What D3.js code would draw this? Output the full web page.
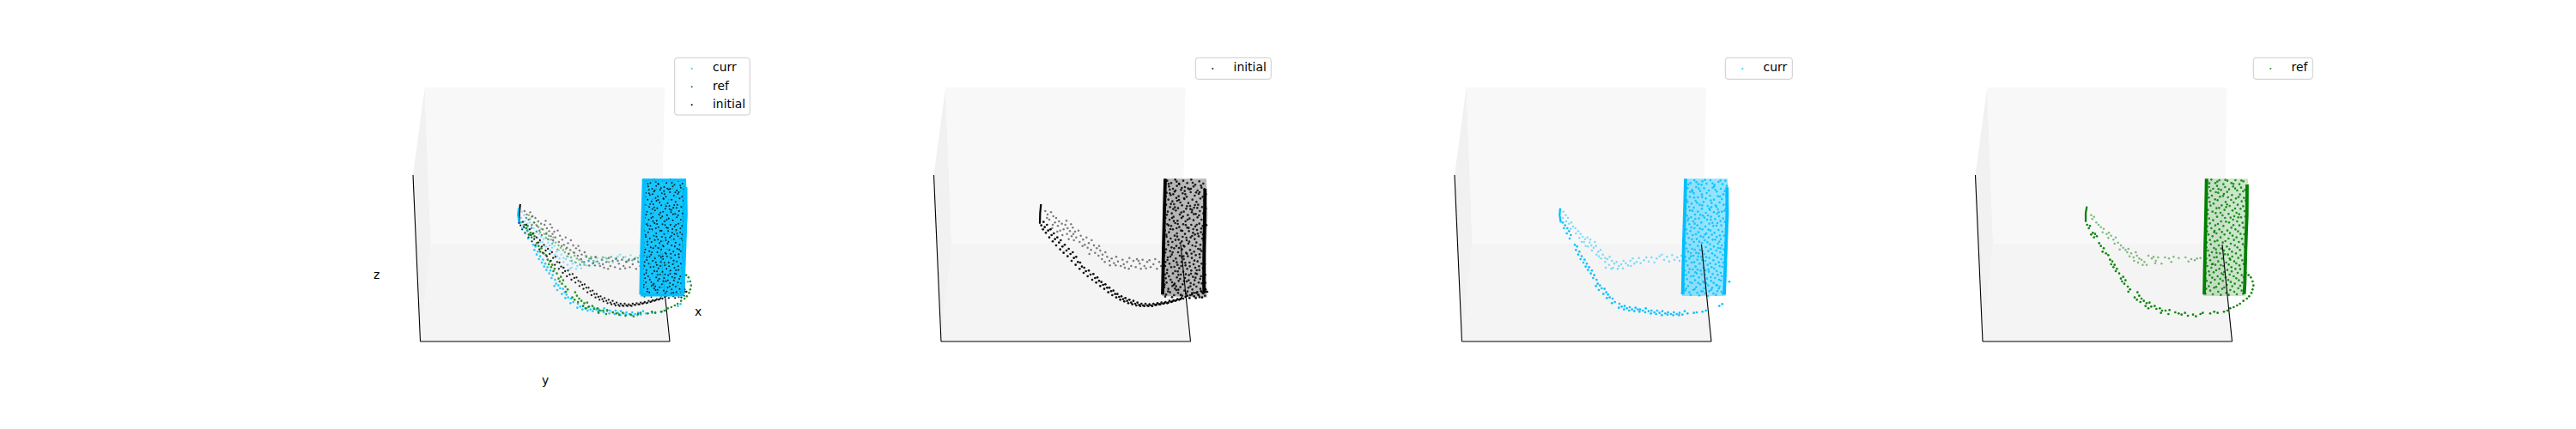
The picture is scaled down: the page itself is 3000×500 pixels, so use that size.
<!DOCTYPE html>
<html><head><meta charset="utf-8">
<script src="https://cdn.jsdelivr.net/npm/d3@7/dist/d3.min.js"></script>
<style>html,body{margin:0;padding:0;background:#fff}svg{display:block}text{font-family:"DejaVu Sans";font-size:13.89px;fill:#000}</style>
</head><body><svg id="c" width="3000" height="500"></svg>
<script>
const initialTip=[[37,24],[34,55],[33,92]];
const initialLeft=[[471,-65],[468,50],[465,180],[462,340]];
const initialRight=[[610,-30],[609,60],[607,180],[606,300],[607,335]];
const initialOutline=[[467,-65],[615,-65],[619,60],[614,200],[617,350],[460,345]];
const initialBack=[[52,48],[60,60],[72,52],[80,66],[66,78],[90,72],[86,88],[100,84],[96,100],[110,92],[78,96],[122,96],[116,112],[130,108],[104,116],[138,118],[148,106],[128,128],[156,120],[144,136],[168,116],[160,140],[176,134],[152,150],[184,148],[172,156],[196,140],[190,166],[204,160],[214,150],[200,176],[222,168],[212,184],[232,178],[226,194],[244,186],[238,204],[252,200],[262,192],[250,216],[268,208],[276,222],[260,226],[284,214],[292,230],[300,208],[278,238],[306,224],[316,240],[322,218],[330,246],[338,226],[346,212],[352,240],[344,250],[360,222],[372,216],[368,244],[382,232],[392,218],[398,240],[386,250],[408,226],[416,220],[420,244],[430,234],[436,216],[442,250],[450,226],[456,240],[378,222],[404,248],[326,234],[298,238],[240,170],[126,82],[142,94],[58,72],[76,108],[94,120],[112,132],[134,146],[150,128],[182,170],[206,198]];
const initialFront=[[38,98],[46,86],[50,104],[44,112],[58,96],[62,116],[54,124],[70,112],[74,132],[66,140],[82,126],[86,146],[78,154],[94,140],[100,158],[90,168],[106,150],[112,172],[104,182],[120,166],[126,186],[116,194],[134,180],[140,198],[130,206],[148,192],[152,212],[144,222],[160,208],[166,226],[158,236],[174,228],[180,242],[172,250],[188,246],[194,258],[186,264],[204,256],[210,270],[200,276],[220,268],[226,282],[216,288],[234,280],[240,292],[230,298],[248,296],[254,306],[244,310],[262,304],[268,316],[258,320],[276,316],[282,328],[272,332],[290,326],[296,338],[286,342],[304,338],[310,348],[300,350],[318,346],[324,356],[314,358],[332,352],[338,362],[328,364],[346,358],[352,368],[342,370],[360,362],[366,372],[356,374],[374,368],[380,376],[370,378],[388,372],[394,378],[384,380],[402,372],[408,378],[398,380],[416,374],[422,378],[412,380],[430,372],[436,376],[426,380],[444,370],[450,374],[440,376],[458,368],[464,372],[454,374],[472,366],[478,370],[468,370],[486,362],[492,366],[482,368],[500,360],[506,362],[496,364],[514,356],[520,358],[510,360],[528,352],[534,354],[524,356],[542,348],[548,344],[556,352],[564,340],[572,346],[580,334],[588,342],[596,328],[604,336],[612,322],[618,330],[608,312],[600,350],[578,352]];
const initialWall=[[478,-58],[492,-50],[506,-62],[520,-46],[534,-58],[548,-50],[562,-62],[576,-44],[590,-56],[604,-48],[484,-38],[498,-30],[512,-40],[526,-26],[540,-36],[556,-28],[570,-38],[584,-24],[598,-34],[476,-16],[490,-8],[504,-20],[518,-4],[532,-14],[546,-2],[560,-18],[574,-6],[588,-12],[602,-2],[482,8],[496,14],[510,2],[524,18],[538,6],[552,20],[566,8],[580,16],[594,4],[474,26],[488,34],[502,24],[516,38],[530,28],[544,40],[558,30],[572,36],[586,26],[600,34],[480,50],[494,56],[508,46],[522,60],[536,50],[550,62],[564,52],[578,58],[592,48],[604,56],[472,72],[486,78],[500,68],[514,82],[528,72],[542,84],[556,74],[570,80],[584,70],[598,78],[478,94],[492,100],[506,90],[520,104],[534,94],[548,106],[562,96],[576,102],[590,92],[602,100],[470,116],[484,122],[498,112],[512,126],[526,116],[540,128],[554,118],[568,124],[582,114],[596,122],[476,138],[490,144],[504,134],[518,148],[532,138],[546,150],[560,140],[574,146],[588,136],[600,144],[468,160],[482,166],[496,156],[510,170],[524,160],[538,172],[552,162],[566,168],[580,158],[594,166],[474,182],[488,188],[502,178],[516,192],[530,182],[544,194],[558,184],[572,190],[586,180],[598,188],[468,204],[480,210],[494,200],[508,214],[522,204],[536,216],[550,206],[564,212],[578,202],[592,210],[472,226],[486,232],[500,222],[514,236],[528,226],[542,238],[556,228],[570,234],[584,224],[598,232],[466,248],[478,254],[492,244],[506,258],[520,248],[534,260],[548,250],[562,256],[576,246],[590,254],[470,270],[484,276],[498,266],[512,280],[526,270],[540,282],[554,272],[568,278],[582,268],[596,276],[466,292],[476,298],[490,288],[504,302],[518,292],[532,304],[546,294],[560,300],[574,290],[588,298],[468,314],[482,320],[496,310],[510,324],[524,314],[538,326],[552,316],[566,322],[580,312],[594,320],[464,336],[474,340],[488,332],[502,342],[516,334],[530,344],[544,336],[558,342],[572,334],[586,340],[600,332],[610,344],[614,330],[487,-14],[513,12],[539,-22],[565,44],[591,-18],[511,108],[549,78],[497,192],[575,130],[527,240],[483,98],[605,210],[603,130],[553,290],[495,72],[519,-48],[581,96],[535,206],[561,-30],[501,306],[577,266],[529,154],[507,-24],[593,182],[471,240]];
const initialWallExtra=[[483,-47],[511,-55],[529,-33],[567,-51],[596,-41],[473,-3],[499,-11],[537,3],[551,-31],[579,-17],[608,-29],[491,23],[519,9],[547,31],[583,37],[607,11],[477,61],[505,35],[533,67],[559,41],[589,63],[469,89],[501,83],[543,97],[571,59],[609,83],[489,111],[515,93],[553,107],[585,127],[475,131],[507,149],[531,117],[565,135],[597,109],[481,155],[519,177],[545,141],[577,171],[605,151],[471,193],[493,175],[535,169],[563,197],[591,199],[479,219],[511,227],[547,197],[573,221],[607,183],[467,237],[503,243],[529,209],[557,241],[589,241],[477,265],[515,259],[543,269],[581,255],[603,247],[473,283],[495,297],[523,285],[561,267],[593,285],[469,305],[509,311],[537,293],[571,305],[599,301],[481,329],[517,323],[549,329],[583,331],[607,315],[471,347],[495,349],[525,341],[565,335],[591,349],[487,-27],[541,-11],[575,27],[499,41],[527,53],[569,111],[513,137],[555,155],[489,207],[541,229],[517,271],[577,281],[505,319],[559,311],[609,233],[611,271],[611,299],[613,39],[615,97],[613,-11]];

const currTip=[[21,38],[19,62],[23,88]];
const currLeft=[[459,-65],[456,50],[452,180],[449,340]];
const currRight=[[604,-35],[604,60],[600,180],[596,290],[594,340]];
const currTop=[[457,-60],[605,-60]];
const currBottom=[[448,342],[594,342]];
const currOutline=[[455,-65],[606,-65],[611,60],[603,200],[598,345],[447,345]];
const currBack=[[32,50],[40,62],[30,72],[48,72],[42,84],[52,92],[60,88],[66,102],[58,110],[74,108],[84,118],[76,126],[92,128],[100,138],[88,142],[108,146],[116,140],[104,156],[124,158],[130,168],[118,172],[138,176],[146,170],[132,186],[154,190],[162,184],[148,200],[170,200],[178,212],[164,214],[186,216],[194,208],[178,226],[202,222],[210,232],[192,236],[218,226],[226,240],[206,246],[234,234],[242,222],[222,250],[250,230],[258,238],[240,248],[266,222],[274,214],[280,232],[268,240],[288,226],[296,212],[302,230],[314,220],[322,210],[330,224],[340,210],[350,228],[358,214],[368,206],[376,200],[384,218],[394,208],[402,224],[412,202],[420,218],[430,210],[438,222],[444,204],[180,246],[200,250],[156,206],[142,156],[126,148],[110,170],[96,156]];
const currFront=[[30,88],[38,98],[34,108],[46,108],[52,118],[44,126],[58,132],[54,144],[72,166],[80,172],[76,184],[88,190],[84,200],[96,206],[92,216],[106,218],[102,228],[114,232],[110,242],[122,244],[118,254],[132,256],[128,266],[140,272],[136,282],[148,288],[152,302],[146,310],[160,308],[166,318],[156,324],[176,320],[182,332],[172,338],[188,340],[194,350],[184,352],[204,354],[212,366],[202,370],[228,372],[236,382],[226,386],[246,380],[254,388],[244,392],[264,384],[272,392],[262,396],[284,386],[292,392],[280,398],[300,392],[310,396],[298,400],[320,388],[330,398],[318,402],[340,396],[350,402],[338,406],[360,396],[368,404],[356,408],[378,398],[388,406],[376,412],[398,402],[408,408],[396,410],[418,402],[428,408],[416,412],[438,404],[448,410],[436,412],[456,398],[466,406],[488,404],[498,402],[518,400],[530,396],[577,380],[587,373],[612,295]];
const currWall=[[462,-58],[476,-50],[490,-60],[504,-46],[518,-56],[532,-48],[546,-60],[560,-44],[574,-54],[588,-46],[598,-58],[466,-32],[482,-26],[496,-36],[510,-22],[524,-32],[540,-24],[554,-34],[568,-20],[582,-30],[596,-22],[460,-8],[474,-2],[488,-14],[502,0],[516,-10],[530,4],[544,-6],[558,8],[572,-4],[586,6],[600,-6],[466,16],[480,22],[494,12],[508,26],[522,16],[536,30],[550,20],[564,28],[578,18],[592,26],[460,40],[474,46],[488,36],[502,50],[516,40],[530,54],[544,44],[558,52],[572,42],[586,50],[600,40],[464,64],[478,70],[492,60],[506,74],[520,64],[534,78],[548,68],[562,76],[576,66],[590,74],[458,88],[472,94],[486,84],[500,98],[514,88],[528,102],[542,92],[556,100],[570,90],[584,98],[596,86],[462,112],[476,118],[490,108],[504,122],[518,112],[532,126],[546,116],[560,124],[574,114],[588,120],[456,136],[470,142],[484,132],[498,146],[512,136],[526,150],[540,140],[554,148],[568,138],[582,146],[594,134],[460,160],[474,166],[488,156],[502,170],[516,160],[530,174],[544,164],[558,172],[572,162],[586,168],[454,184],[468,190],[482,180],[496,194],[510,184],[524,198],[538,188],[552,196],[566,186],[580,192],[592,182],[458,208],[472,214],[486,204],[500,218],[514,208],[528,222],[542,212],[556,220],[570,210],[584,216],[452,232],[466,238],[480,228],[494,242],[508,232],[522,246],[536,236],[550,244],[564,234],[578,240],[590,228],[456,256],[470,262],[484,252],[498,266],[512,256],[526,270],[540,260],[554,268],[568,258],[582,264],[450,280],[464,286],[478,276],[492,290],[506,280],[520,294],[534,284],[548,292],[562,282],[576,288],[586,276],[454,304],[468,310],[482,300],[496,314],[510,304],[524,318],[538,308],[552,316],[566,306],[578,312],[458,326],[472,332],[486,324],[500,334],[514,328],[528,336],[542,328],[556,336],[570,328],[584,330],[483,-20],[517,28],[559,-38],[491,92],[575,52],[527,130],[505,196],[547,78],[469,74],[581,178],[539,252],[493,262],[563,148],[515,-44],[601,24],[477,206],[523,298],[569,308],[549,34]];
const currWallExtra=[[469,-45],[497,-53],[527,-61],[553,-49],[581,-59],[603,-40],[475,-19],[505,-31],[533,-15],[563,-27],[591,-11],[463,9],[489,1],[517,-1],[547,11],[579,-3],[605,15],[471,33],[499,19],[541,39],[567,33],[595,47],[457,57],[483,47],[511,61],[537,63],[569,57],[603,69],[467,81],[493,75],[525,71],[553,89],[581,83],[453,101],[479,105],[509,109],[539,113],[567,99],[599,111],[465,127],[495,129],[521,139],[551,131],[579,133],[451,151],[481,147],[507,155],[535,157],[577,155],[597,159],[463,179],[491,183],[519,189],[547,181],[573,177],[451,199],[477,195],[503,207],[531,209],[561,203],[589,201],[461,223],[489,227],[517,219],[545,231],[575,227],[449,247],[473,251],[501,253],[529,255],[559,249],[587,243],[461,271],[487,275],[515,269],[547,279],[571,271],[449,295],[475,297],[503,299],[531,301],[557,299],[583,291],[461,319],[491,321],[519,329],[549,323],[575,319],[447,335],[477,341],[507,343],[537,345],[565,341],[589,337]];

const refTip=[[31,32],[27,55],[27,86]];
const refLeft=[[449,-65],[447,50],[444,180],[441,340]];
const refRight=[[591,-45],[590,60],[586,180],[583,300],[581,338]];
const refOutline=[[445,-65],[594,-65],[597,60],[590,200],[585,345],[438,345]];
const refBack=[[46,62],[56,68],[50,76],[64,88],[72,96],[80,104],[90,110],[86,122],[100,128],[108,124],[116,134],[106,142],[124,148],[132,140],[140,158],[128,162],[150,168],[158,176],[146,182],[166,184],[176,180],[172,192],[186,196],[180,206],[194,210],[202,192],[206,204],[196,222],[214,214],[210,228],[222,218],[232,226],[226,236],[240,236],[246,204],[258,214],[264,208],[272,222],[280,210],[270,230],[292,232],[304,210],[318,214],[326,226],[334,208],[352,212],[376,210],[386,224],[396,216],[408,220],[416,214],[428,212]];
const refFront=[[32,96],[42,100],[38,108],[52,124],[46,130],[60,128],[56,140],[66,136],[74,160],[80,170],[90,178],[86,190],[98,196],[106,202],[112,218],[120,224],[116,234],[128,236],[124,244],[136,250],[132,258],[144,266],[150,284],[158,278],[154,294],[166,290],[162,302],[174,312],[182,322],[176,330],[198,350],[208,332],[214,344],[206,358],[222,354],[218,366],[230,362],[240,370],[236,380],[250,368],[256,382],[246,388],[268,380],[274,390],[286,388],[294,396],[290,404],[306,396],[320,394],[316,408],[340,402],[352,406],[362,410],[374,404],[384,414],[402,410],[412,416],[428,408],[436,404],[462,406],[476,400],[488,404],[510,400],[522,396],[532,388],[544,384],[556,378],[566,372],[578,362],[590,354],[598,346],[606,334],[610,322],[613,308],[610,294],[604,280],[596,272],[586,264]];
const refWall=[[452,-56],[466,-62],[480,-50],[494,-60],[508,-46],[522,-58],[536,-50],[550,-60],[564,-46],[578,-56],[458,-36],[472,-30],[486,-40],[500,-26],[514,-36],[528,-28],[542,-38],[556,-24],[570,-34],[584,-26],[452,-12],[468,-6],[482,-18],[496,-2],[510,-12],[524,0],[538,-8],[552,4],[566,-10],[580,2],[460,16],[474,22],[488,10],[502,28],[516,16],[530,30],[544,18],[558,26],[572,14],[454,44],[470,50],[484,38],[498,54],[512,44],[526,58],[540,46],[554,54],[568,40],[582,48],[458,74],[472,80],[486,68],[500,84],[514,72],[528,88],[542,78],[556,84],[570,70],[452,102],[466,108],[480,98],[494,112],[508,100],[522,116],[536,106],[550,112],[564,98],[578,106],[456,130],[470,136],[484,126],[498,140],[512,130],[526,144],[540,134],[554,140],[568,128],[450,158],[464,164],[478,154],[492,168],[506,158],[520,172],[534,162],[548,168],[562,156],[576,164],[454,186],[468,192],[482,182],[496,196],[510,186],[524,200],[538,190],[552,196],[566,184],[448,214],[462,220],[476,210],[490,224],[504,214],[518,228],[532,218],[546,224],[560,212],[574,220],[452,240],[466,246],[480,236],[494,250],[508,240],[522,254],[536,244],[550,250],[564,238],[446,266],[460,272],[474,262],[488,276],[502,266],[516,280],[530,270],[544,276],[558,264],[572,272],[450,292],[464,298],[478,288],[492,302],[506,292],[520,306],[534,296],[548,302],[562,290],[574,298],[448,320],[462,326],[476,316],[490,330],[504,320],[518,334],[532,324],[546,330],[560,318],[572,326],[490,-16],[518,34],[546,66],[476,122],[530,214],[508,270],[468,234],[560,70],[484,194]];
const refWallExtra=[[459,-49],[487,-55],[515,-61],[543,-47],[571,-59],[589,-39],[463,-23],[491,-29],[521,-19],[549,-31],[577,-21],[457,1],[479,7],[507,-5],[535,9],[561,-1],[586,11],[463,29],[493,37],[521,25],[549,39],[577,31],[453,59],[481,55],[505,63],[533,71],[563,59],[585,67],[461,91],[489,93],[517,85],[543,97],[575,89],[451,119],[477,117],[503,121],[531,125],[559,119],[581,129],[461,149],[487,151],[515,153],[545,149],[573,145],[449,175],[475,177],[501,179],[529,181],[557,175],[583,173],[459,203],[485,209],[513,199],[539,207],[569,203],[447,229],[471,233],[499,237],[527,235],[553,231],[579,233],[457,259],[483,255],[511,261],[537,259],[567,251],[445,283],[469,281],[497,285],[525,289],[553,283],[579,279],[457,311],[483,313],[511,315],[539,311],[567,309],[445,337],[471,339],[499,341],[527,341],[555,339],[577,337]];

const legendPanels=[["curr","ref","initial"],["initial"],["curr"],["ref"]];
const seriesColors={initial:"#000000",curr:"#00bfff",ref:"#008000"};
const series={
 initial:{home:1,tip:initialTip,edges:[initialLeft,initialRight],outline:initialOutline,back:initialBack,front:initialFront,wall:initialWall.concat(initialWallExtra),origin:1200,fill:0.27},
 curr:{home:2,tip:currTip,edges:[currLeft,currRight],outline:currOutline,back:currBack,front:currFront,wall:currWall.concat(currWallExtra),origin:1810,fill:0.42,caps:[currTop,currBottom]},
 ref:{home:3,tip:refTip,edges:[refLeft,refRight],outline:refOutline,back:refBack,front:refFront,wall:refWall.concat(refWallExtra),origin:2420,fill:0.2}
};
const panelStep=606.5;
// box corners, screen px relative to the front-left floor corner
const paneLeft=[[-8.5,194],[5.2,296.3],[12.2,114],[0,0]];
const paneBack=[[5.2,296.3],[284.5,296.3],[280.7,114],[12.2,114]];
const paneFloor=[[0,0],[290.5,0],[280.7,114],[12.2,114]];
const zAxisLine=[[-8.5,194],[0,0]];
const floorLine=[[0,0],[290.5,0]];
const xAxisLine=[[290.5,0],[279,113]];
const legendBoxes=[[785.7,873.3],[1392.3,1480.3],[2009.3,2087.3],[2624.3,2693.3]];

const svg=d3.select("#c");
const line=d3.line();
legendPanels.forEach((names,i)=>{
  const g=svg.append("g");
  const fx=d3.scaleLinear().domain([0,290.5]).range([489.5+i*panelStep,780+i*panelStep]);
  const fy=d3.scaleLinear().domain([0,296.3]).range([398,101.7]);
  const P=a=>a.map(d=>[fx(d[0]),fy(d[1])]);
  const poly=(a,c)=>g.append("path").attr("d",line(P(a))+"Z").attr("fill",c);
  poly(paneLeft,"#f1f1f1");poly(paneBack,"#f8f8f8");poly(paneFloor,"#f4f4f4");
  const ax=a=>g.append("path").attr("d",line(P(a))).attr("fill","none").attr("stroke","#000").attr("stroke-width",1.1);
  ax(zAxisLine);ax(floorLine);
  const overview=names.length>1;
  if(overview)ax(xAxisLine);
  const layer=name=>{
    const s=series[name],c=seriesColors[name];
    const left=s.origin-(s.home-i)*panelStep;
    const sx=d3.scaleLinear().domain([0,540]).range([left,left+180]);
    const sy=d3.scaleLinear().domain([0,420]).range([230,370]);
    const Q=a=>a.map(d=>[sx(d[0]),sy(d[1])]);
    return {s,c,sx,sy,Q};
  };
  const dots=(l,data,r,o)=>g.append("g").selectAll("circle").data(data).join("circle")
    .attr("cx",d=>l.sx(d[0])).attr("cy",d=>l.sy(d[1])).attr("r",r).attr("fill",l.c).attr("fill-opacity",o);
  const stroke=(l,a,w)=>g.append("path").attr("d",line(l.Q(a))).attr("fill","none").attr("stroke",l.c).attr("stroke-width",w);
  if(overview){
    const R=layer("ref"),C=layer("curr"),K=layer("initial");
    dots(K,K.s.back,1.2,0.5);dots(R,R.s.back,1.2,0.5);dots(C,C.s.back,1.2,0.45);
    dots(K,K.s.front,1.15,0.9);dots(C,C.s.front,1.3,0.85);dots(R,R.s.front,1.3,0.85);
    stroke(K,K.s.tip,2);stroke(C,C.s.tip,2.2);
    stroke(K,K.s.edges[1],3.5);
    g.append("path").attr("d",line(C.Q(C.s.outline))+"Z").attr("fill",C.c).attr("fill-opacity",0.9);
    dots(K,K.s.wall,1,0.8);
    dots(R,refWallExtra,0.75,0.55);
    C.s.edges.forEach(e=>stroke(C,e,4.5));
    C.s.caps.forEach(e=>stroke(C,e,3));
  }else{
    const l=layer(names[0]);
    g.append("path").attr("d",line(l.Q(l.s.outline))+"Z").attr("fill",l.c).attr("fill-opacity",l.s.fill);
    dots(l,l.s.wall,1.3,0.85);
    dots(l,l.s.back,1.25,0.5);
    dots(l,l.s.front,1.35,0.95);
    stroke(l,l.s.tip,2.2);
    l.s.edges.forEach(e=>stroke(l,e,3.8));
    ax(xAxisLine);
  }
  // legend
  const [bx0,bx1]=legendBoxes[i];
  const rowH=21.1;
  const leg=g.append("g");
  leg.append("rect").attr("x",bx0).attr("y",67.3).attr("width",bx1-bx0).attr("height",names.length===3?66.7:25)
    .attr("rx",3).attr("fill","#fff").attr("fill-opacity",0.8).attr("stroke","#ccc").attr("stroke-width",1);
  names.forEach((n,k)=>{
    const y=80+k*rowH;
    leg.append("circle").attr("cx",bx0+20).attr("cy",y).attr("r",1.1).attr("fill",seriesColors[n]).attr("fill-opacity",0.8);
    leg.append("text").attr("x",bx0+44.3).attr("y",y+3.4).text(n);
  });
});
[["z",438.7,325.3],["x",813,367.5],["y",635,448.2]].forEach(t=>svg.append("text").attr("x",t[1]).attr("y",t[2]).attr("text-anchor","middle").text(t[0]));
</script></body></html>
